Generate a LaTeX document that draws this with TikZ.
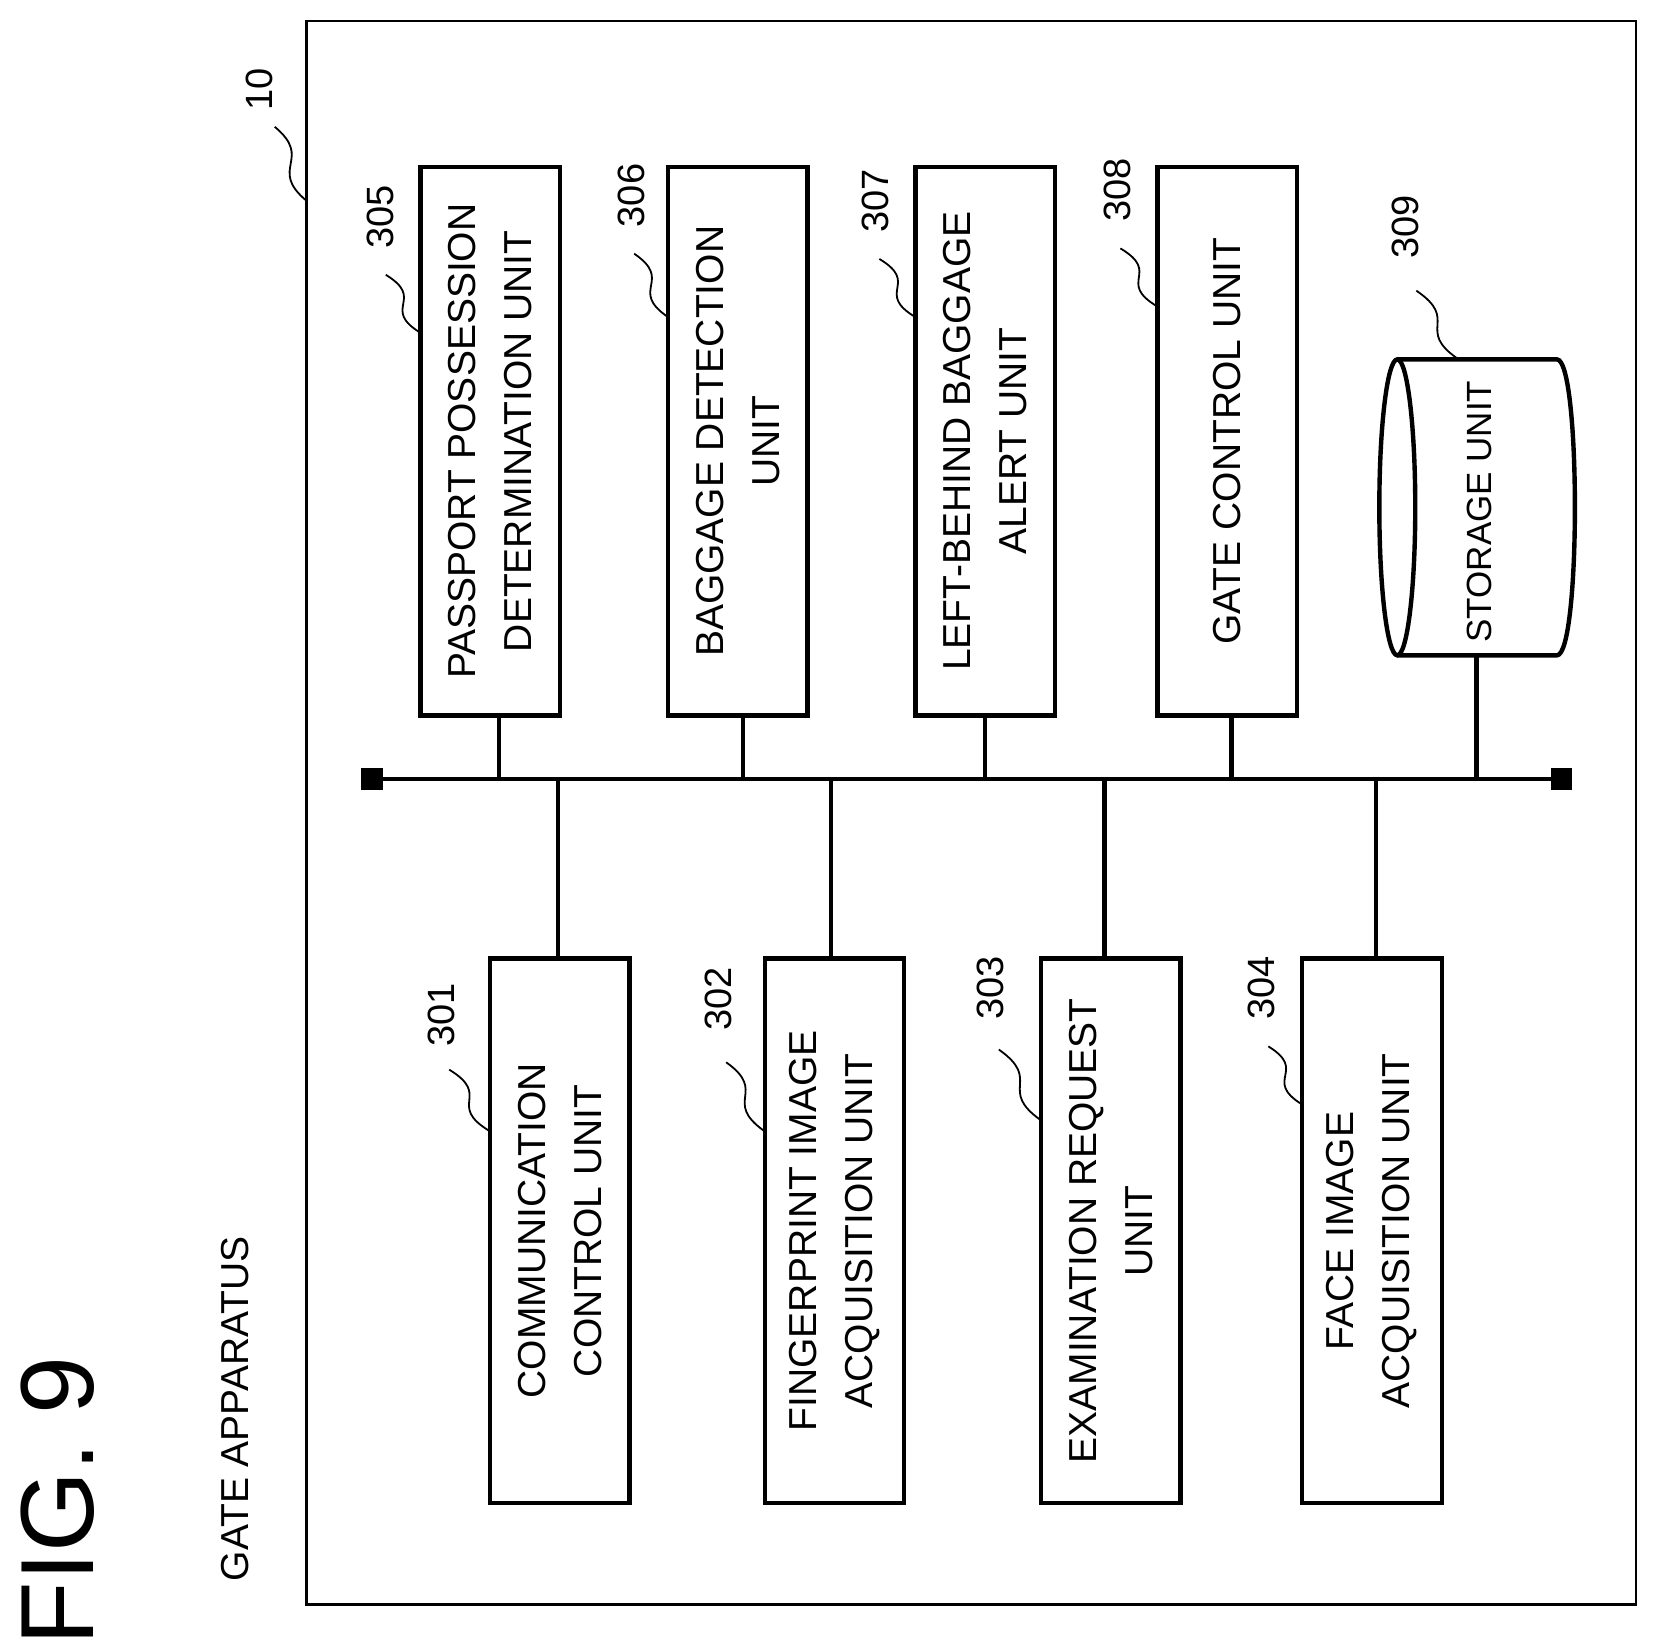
\documentclass[tikz,border=0pt]{standalone}
\usepackage{fontspec}
\setmainfont{Liberation Sans}
\usetikzlibrary{calc}
\begin{document}
\def\u{0.5285}
\begin{tikzpicture}[x=\u pt,y=-\u pt,
 box/.style={draw,line width=2.2pt,minimum width=132*\u pt,minimum height=#1*\u pt,inner sep=0pt},
 txt/.style={rotate=90,align=center,font=\fontsize{19.5}{28}\selectfont},
 num/.style={rotate=90,font=\fontsize{19}{22}\selectfont},
 wire/.style={line width=2.2pt},
 sq/.style={line width=0.9pt}]
\useasboundingbox (0,0) rectangle (1571.5,1561);
\node[draw,line width=1.3pt,minimum width=1258*\u pt,minimum height=1498*\u pt,inner sep=0pt] (frame) at (919,769) {};
\node[rotate=90,font=\fontsize{52}{60}\selectfont] (fig) at (55,1420) {FIG. 9};
\node[rotate=90,font=\fontsize{19.5}{24}\selectfont] (ga) at (222,1333) {GATE APPARATUS};
% top boxes
\node[box=519] (b305) at (464,417.5) {};
\node[txt] at (b305) {PASSPORT POSSESSION\\DETERMINATION UNIT};
\node[box=519] (b306) at (698,417.5) {};
\node[txt] at (b306) {BAGGAGE DETECTION\\UNIT};
\node[box=519] (b307) at (932,417.5) {};
\node[txt] at (b307) {LEFT-BEHIND BAGGAGE\\ALERT UNIT};
\node[box=519] (b308) at (1161,417.5) {};
\node[txt] at (b308) {GATE CONTROL UNIT};
% bottom boxes
\node[box=515] (b301) at (529.5,1164.5) {};
\node[txt] at (b301) {COMMUNICATION\\CONTROL UNIT};
\node[box=515] (b302) at (789.5,1164.5) {};
\node[txt] at (b302) {FINGERPRINT IMAGE\\ACQUISITION UNIT};
\node[box=515] (b303) at (1051,1164.5) {};
\node[txt] at (b303) {EXAMINATION REQUEST\\UNIT};
\node[box=515] (b304) at (1298,1164.5) {};
\node[txt] at (b304) {FACE IMAGE\\ACQUISITION UNIT};
% cylinder
\draw[line width=2.2pt] (1322,480) ellipse [x radius=17,y radius=140];
\draw[line width=2.2pt] (1322,340) -- (1473,340) .. controls (1495.7,340) and (1495.7,620) .. (1473,620) -- (1322,620);
\node[txt,font=\fontsize{17.5}{22}\selectfont] (b309) at (1400,484) {STORAGE UNIT};
\coordinate (c309) at (1397,620);
% bus
\coordinate (busL) at (352,737);
\coordinate (busR) at (1477,737);
\draw[wire] (busL) -- (busR);
\node[fill,minimum size=20*\u pt,inner sep=0pt] (eL) at (busL) {};
\node[fill,minimum size=20*\u pt,inner sep=0pt] (eR) at (busR) {};
\draw[wire] (b305.south -| 472,0) -- (472,737);
\draw[wire] (b306.south -| 703,0) -- (703,737);
\draw[wire] (b307.south -| 932,0) -- (932,737);
\draw[wire] (b308.south -| 1165,0) -- (1165,737);
\draw[wire] (c309) -- (1397,737);
\draw[wire] (b301.north -| 528,0) -- (528,737);
\draw[wire] (b302.north -| 786,0) -- (786,737);
\draw[wire] (b303.north -| 1045,0) -- (1045,737);
\draw[wire] (b304.north -| 1302,0) -- (1302,737);
% numbers
\foreach \t/\x/\y/\sx/\sy/\ex/\ey in {
 10/245/85/260/120/290/190,
 305/360/205/365/260/398/315,
 306/597/185/600/240/632/300,
 307/828/190/832/245/866/300,
 308/1057/180/1060/235/1095/290,
 309/1330/215/1340/275/1380/340,
 301/418/960/425/1012/463/1070,
 302/680/945/687/1005/723/1070,
 303/937/935/945/993/985/1060,
 304/1193/935/1200/990/1232/1045}{
 \node[num] (n\t) at (\x,\y) {\t};
 \coordinate (s\t) at (\sx,\sy);
 \coordinate (e\t) at (\ex,\ey);
 \draw[sq] (s\t) .. controls ($(s\t)!0.5!(e\t)+(22,-4)$) and ($(s\t)!0.5!(e\t)+(-22,4)$) .. (e\t);
}
\end{tikzpicture}
\end{document}
